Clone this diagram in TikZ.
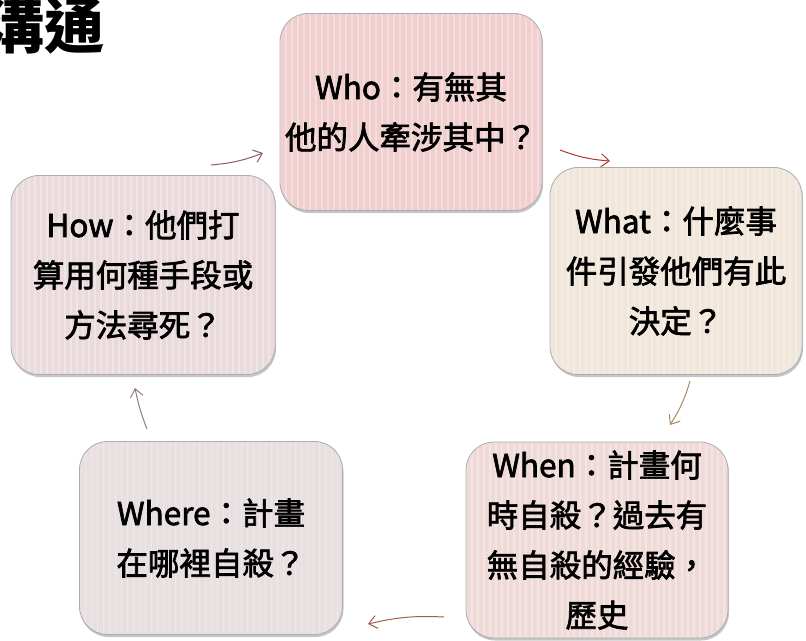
\documentclass[tikz,border=0pt]{standalone}
\usepackage{fontspec}
\setmainfont{Noto Sans CJK TC}
\newfontfamily\qfont{Noto Sans CJK TC}[FakeBold=2.2]
\usetikzlibrary{shadows,arrows.meta}
\definecolor{whoFill}{HTML}{F2CFCF}
\definecolor{whatFill}{HTML}{F1E6DA}
\definecolor{whenFill}{HTML}{EFDAD7}
\definecolor{whereFill}{HTML}{E7DFE0}
\definecolor{howFill}{HTML}{EADADC}
\definecolor{arHow}{HTML}{8C5B5B}
\definecolor{arWho}{HTML}{B0392E}
\definecolor{arWhat}{HTML}{A58B63}
\definecolor{arWhen}{HTML}{A35E4A}
\definecolor{arWhere}{HTML}{8B7C82}

\begin{document}
\begin{tikzpicture}[x=1pt,y=-1pt,
  box/.style={rectangle,rounded corners=28pt,draw=gray!65,line width=0.8pt,
    align=center,inner sep=0pt,font=\qfont\fontsize{31.5}{50}\selectfont,
    drop shadow={shadow xshift=1pt,shadow yshift=-2.5pt,opacity=0.45},
    path picture={\foreach \i in {0,6,...,270}
      \draw[white,opacity=0.3,line width=1.5pt]
        ([xshift=\i pt]path picture bounding box.south west) --
        ([xshift=\i pt]path picture bounding box.north west);}},
  cyc/.style={-{Straight Barb[length=8pt,width=13pt]},line width=1pt}]
\useasboundingbox (0,0) rectangle (806,640);

% title
\node (title) [anchor=west,inner sep=0pt,font=\fontsize{60}{64}\selectfont\bfseries]
  at (-16,26) {溝通};

% the five questions
\node (who) [box,fill=whoFill,minimum width=262pt,minimum height=197pt]
  at (411,112) {Who：有無其\\他的人牽涉其中？};
\node (what) [box,fill=whatFill,minimum width=252pt,minimum height=207pt]
  at (676,271) {What：什麼事\\件引發他們有此\\決定？};
\node (when) [box,fill=whenFill,minimum width=262pt,minimum height=196pt]
  at (597,540) {When：計畫何\\時自殺？過去有\\無自殺的經驗，\\歷史};
\node (where) [box,fill=whereFill,minimum width=263pt,minimum height=193pt]
  at (211,538) {Where：計畫\\在哪裡自殺？};
\node (how) [box,fill=howFill,minimum width=264pt,minimum height=199pt]
  at (143,275) {How：他們打\\算用何種手段或\\方法尋死？};

% arrow ends
\coordinate (howout) at (211,165);
\coordinate (whoin) at (263,153);
\coordinate (whoout) at (560,150);
\coordinate (whatin) at (610,161);
\coordinate (whatout) at (690,381);
\coordinate (whenin) at (670,425);
\coordinate (whenout) at (444,617);
\coordinate (wherein) at (368,624);
\coordinate (whereout) at (147,429);
\coordinate (howin) at (135,388);

\draw[cyc,arHow] (howout) to[bend right=8] (whoin);
\draw[cyc,arWho] (whoout) to[bend right=8] (whatin);
\draw[cyc,arWhat] (whatout) to[bend left=8] (whenin);
\draw[cyc,arWhen] (whenout) to[bend right=8] (wherein);
\draw[cyc,arWhere] (whereout) to[bend left=5] (howin);
\end{tikzpicture}
\end{document}
